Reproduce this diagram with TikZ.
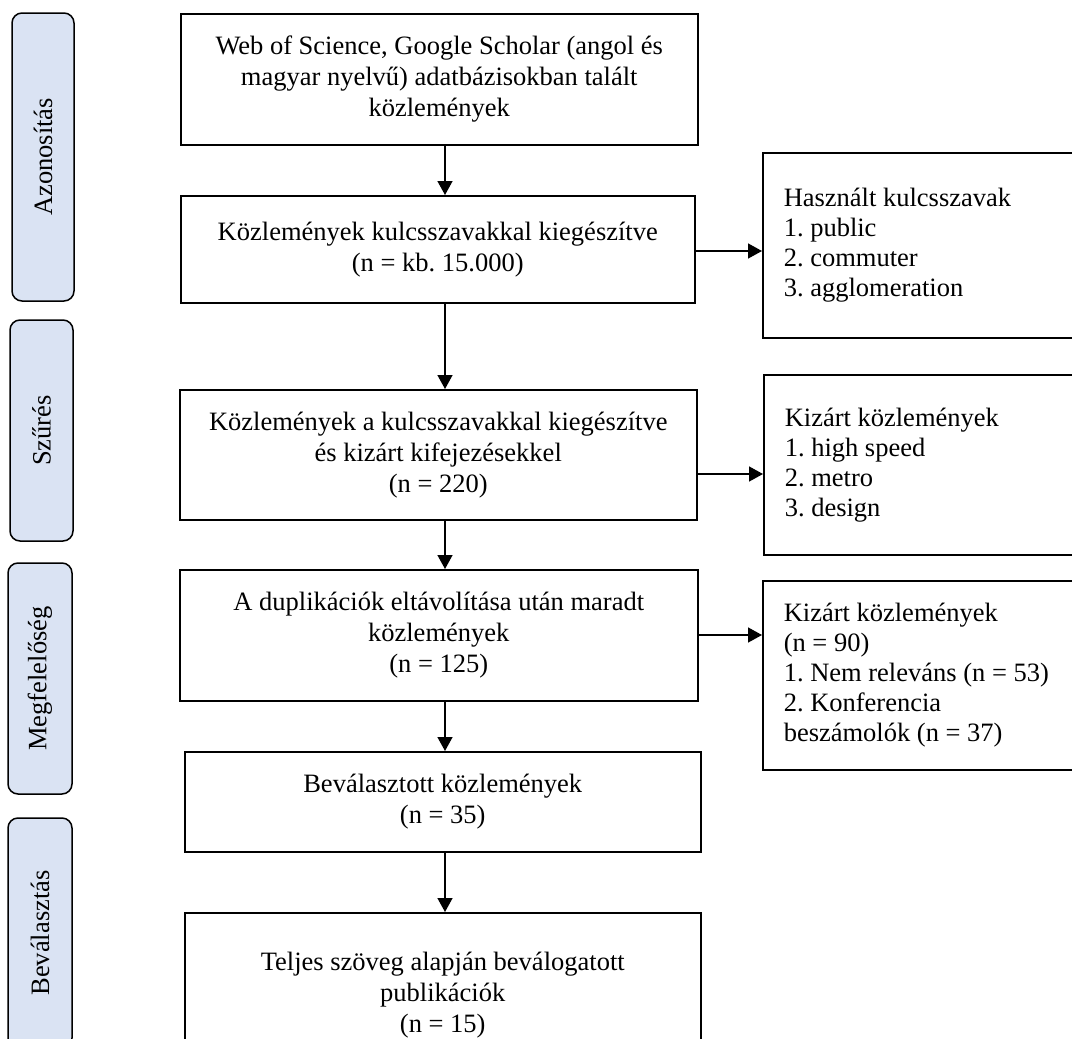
\documentclass[tikz,border=0pt]{standalone}
\usepackage{fontspec}
\setmainfont{Liberation Serif}
\frenchspacing
\usetikzlibrary{arrows.meta}
\definecolor{sidefill}{RGB}{218,227,243}
\begin{document}
\begin{tikzpicture}[x=1pt,y=-1pt,
  every node/.style={font=\fontsize{26.5}{31}\selectfont, inner sep=0pt},
  mainbox/.style={draw, line width=1.5pt, anchor=north west, align=center},
  sidebox/.style={draw, line width=1.5pt, anchor=north west, align=flush left,
    text width=300pt, inner xsep=21pt, font=\fontsize{26.5}{30}\selectfont},
  phase/.style={draw, line width=1.5pt, fill=sidefill, rounded corners=10pt, rotate=90},
  arr/.style={line width=1.5pt, -{Triangle[length=14pt,width=15pt]}}]
\useasboundingbox (0,0) rectangle (1072,1039);
\clip (0,0) rectangle (1072,1039);

% phase labels
\node[phase, minimum width=288pt, minimum height=62pt] (pA) at (43,157) {Azonosítás};
\node[phase, minimum width=221pt, minimum height=63pt] (pS) at (41.5,430.5) {Szűrés};
\node[phase, minimum width=231pt, minimum height=64pt] (pM) at (40,678.5) {Megfelelőség};
\node[phase, minimum width=230pt, minimum height=64pt] (pB) at (40,933) {Beválasztás};

% main column
\node[mainbox, minimum width=517pt, minimum height=131pt] (b1) at (180,13)
  {Web of Science, Google Scholar (angol és\\magyar nyelvű) adatbázisokban talált\\közlemények};
\node[mainbox, minimum width=514pt, minimum height=107pt] (b2) at (180,195)
  {Közlemények kulcsszavakkal kiegészítve\\(n = kb. 15.000)};
\node[mainbox, minimum width=517pt, minimum height=130pt] (b3) at (179,389)
  {Közlemények a kulcsszavakkal kiegészítve\\és kizárt kifejezésekkel\\(n = 220)};
\node[mainbox, minimum width=518pt, minimum height=131pt] (b4) at (179,569)
  {A duplikációk eltávolítása után maradt\\közlemények\\(n = 125)};
\node[mainbox, minimum width=516pt, minimum height=100pt] (b5) at (184,751)
  {Beválasztott közlemények\\(n = 35)};
\node[mainbox, minimum width=516pt, minimum height=164pt] (b6) at (184,912)
  {Teljes szöveg alapján beválogatott\\publikációk\\(n = 15)};

% right boxes
\node[sidebox, minimum height=185pt] (r1) at (762,152)
  {Használt kulcsszavak\\1. public\\2. commuter\\3. agglomeration};
\node[sidebox, minimum height=180pt] (r2) at (763,374)
  {Kizárt közlemények\\1. high speed\\2. metro\\3. design};
\node[sidebox, minimum height=189pt] (r3) at (762,580)
  {Kizárt közlemények\\(n = 90)\\1. Nem releváns (n = 53)\\2. Konferencia\\beszámolók (n = 37)};

% connector helper coordinates
\coordinate (ax) at (445,0);
\coordinate (h1) at (0,251);
\coordinate (h2) at (0,474);
\coordinate (h3) at (0,635);

\draw[arr] (b1.south -| ax) -- (b2.north -| ax);
\draw[arr] (b2.south -| ax) -- (b3.north -| ax);
\draw[arr] (b3.south -| ax) -- (b4.north -| ax);
\draw[arr] (b4.south -| ax) -- (b5.north -| ax);
\draw[arr] (b5.south -| ax) -- (b6.north -| ax);

\draw[arr] (b2.east |- h1) -- (r1.west |- h1);
\draw[arr] (b3.east |- h2) -- (r2.west |- h2);
\draw[arr] (b4.east |- h3) -- (r3.west |- h3);
\end{tikzpicture}
\end{document}
